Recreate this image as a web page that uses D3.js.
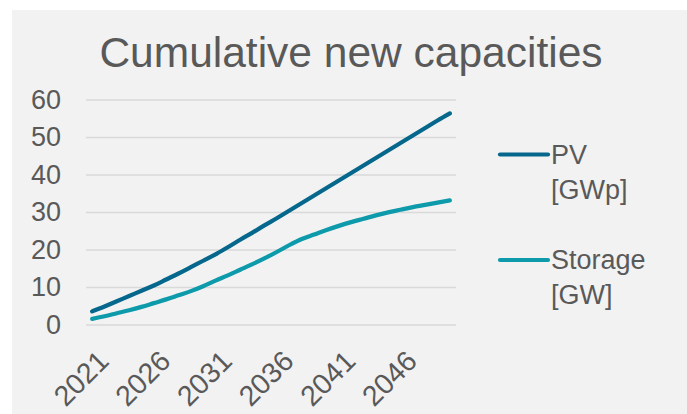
<!DOCTYPE html>
<html>
<head>
<meta charset="utf-8">
<script src="https://cdn.jsdelivr.net/npm/d3@7"></script>
<style>
  body { margin: 0; background: #ffffff; }
  svg { display: block; font-family: "Liberation Sans", Arial, sans-serif; }
</style>
</head>
<body>
<svg id="chart" width="687" height="414"></svg>
<script>
const years = d3.range(2021, 2051);
const tickYears = [2021, 2026, 2031, 2036, 2041, 2046];
const yTicks = [0, 10, 20, 30, 40, 50, 60];

const pv = [3.5, 4.8, 6.2, 7.6, 9.0, 10.4, 12.0, 13.6, 15.3, 17.0,
    18.7, 20.6, 22.6, 24.5, 26.5, 28.4, 30.4, 32.4, 34.4, 36.4,
    38.4, 40.4, 42.4, 44.4, 46.4, 48.4, 50.4, 52.4, 54.4, 56.3];
const storage = [1.5, 2.2, 3.0, 3.8, 4.7, 5.7, 6.7, 7.8, 8.9, 10.2,
    11.7, 13.1, 14.6, 16.1, 17.7, 19.4, 21.2, 22.8, 24.0, 25.2,
    26.3, 27.3, 28.2, 29.1, 29.9, 30.6, 31.3, 31.9, 32.5, 33.1];

const series = [
    { name: ['PV', '[GWp]'], values: pv, color: '#05678c' },
    { name: ['Storage', '[GW]'], values: storage, color: '#0d9aab' }
];

const textColor = '#595959';
const svg = d3.select('#chart');

// panel background
svg.append('rect')
    .attr('x', 12).attr('y', 10)
    .attr('width', 675).attr('height', 404)
    .attr('fill', '#f2f2f2');

svg.append('text')
    .attr('x', 351)
    .attr('y', 67)
    .attr('text-anchor', 'middle')
    .attr('fill', textColor)
    .style('font-size', '42.5px')
    .text('Cumulative new capacities');

const x = d3.scaleBand().domain(years).range([86, 456]);
const y = d3.scaleLinear().domain([0, 60]).range([324.5, 99.5]);
const cx = d => x(d) + x.bandwidth() / 2;

// y axis with gridlines
const yAxis = svg.append('g')
    .attr('transform', 'translate(86,0)')
    .call(d3.axisLeft(y).tickValues(yTicks).tickSize(-370).tickPadding(25));
yAxis.select('.domain').remove();
yAxis.selectAll('line').attr('stroke', '#d9d9d9').attr('stroke-width', 1.3);
yAxis.selectAll('text')
    .attr('fill', textColor)
    .style('font-size', '27px')
    .style('font-family', '"Liberation Sans", Arial, sans-serif');

// x axis, rotated labels
const xAxis = svg.append('g')
    .attr('transform', 'translate(0,324.5)')
    .call(d3.axisBottom(x).tickValues(tickYears).tickSize(0));
xAxis.select('.domain').remove();
xAxis.selectAll('.tick').attr('transform', d => `translate(${cx(d) + 4},24)`);
xAxis.selectAll('text')
    .attr('y', 0)
    .attr('dy', '0.71em')
    .attr('text-anchor', 'end')
    .attr('transform', 'rotate(-45)')
    .attr('fill', textColor)
    .style('font-size', '28.5px')
    .style('font-family', '"Liberation Sans", Arial, sans-serif');

const line = d3.line()
    .x((d, i) => cx(years[i]))
    .y(d => y(d))
    .curve(d3.curveMonotoneX);

svg.selectAll('path.series')
    .data(series)
    .enter()
    .append('path')
    .attr('class', 'series')
    .attr('d', d => line(d.values))
    .attr('fill', 'none')
    .attr('stroke', d => d.color)
    .attr('stroke-width', 4.2)
    .attr('stroke-linecap', 'round')
    .attr('stroke-linejoin', 'round');

// legend
const legend = svg.selectAll('g.legend')
    .data(series)
    .enter()
    .append('g')
    .attr('class', 'legend')
    .attr('transform', (d, i) => `translate(0,${154.5 + i * 105.5})`);

legend.append('line')
    .attr('x1', 500).attr('x2', 548)
    .attr('stroke', d => d.color)
    .attr('stroke-width', 4.2)
    .attr('stroke-linecap', 'round');

legend.selectAll('text')
    .data(d => d.name)
    .enter()
    .append('text')
    .attr('x', 551)
    .attr('y', (d, i) => 9.3 + i * 35)
    .attr('fill', textColor)
    .style('font-size', '27px')
    .text(d => d);
</script>
</body>
</html>
